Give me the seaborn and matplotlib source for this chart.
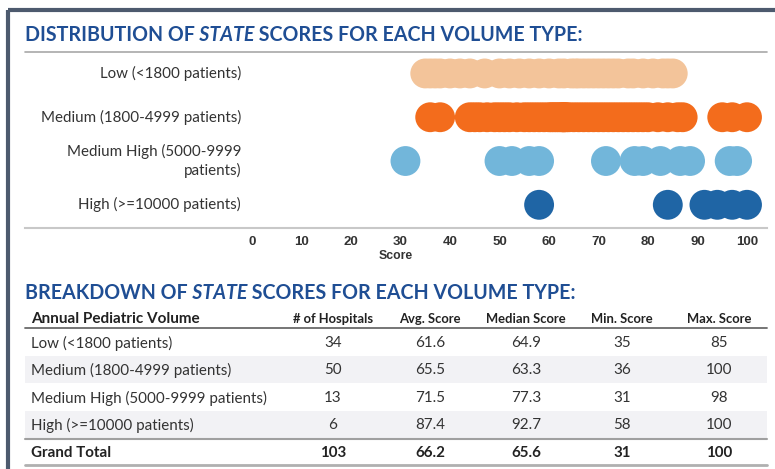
"""
Strip plot of state scores by pediatric volume type, with a summary table below.
"""

import numpy as np
import pandas as pd
import matplotlib
matplotlib.use("Agg")
import matplotlib.pyplot as plt
import seaborn as sns

# Scores per hospital
low_scores = [35, 36, 37, 38, 40, 42, 44, 47, 50, 52, 54, 56, 58, 60, 62, 63, 64.5,
              65.3, 66, 67, 68, 69, 70, 71, 72, 73, 74, 76, 77, 79, 81, 83, 84, 85]
medium_scores = [36, 38, 44, 45, 46, 47.5, 49, 50, 51, 52, 53.5, 55, 56, 57, 58, 59,
                 60, 60.5, 61, 61.5, 62, 62.5, 62.8, 63, 63.1, 63.5, 64, 65, 66, 67,
                 68, 69, 70, 71, 72, 73, 74, 75, 76, 77, 78, 79, 80, 82, 84, 86, 87,
                 95, 97, 100]
medium_high_scores = [31, 50, 52.5, 56, 58, 71.5, 77.3, 79, 82.5, 86.5, 88.5, 96.5, 98]
high_scores = [58, 84, 91.4, 94, 97, 100]

volume_types = ["Low", "Medium", "Medium High", "High"]
chart_labels = ["Low (<1800 patients)", "Medium (1800-4999 patients)",
                "Medium High (5000-9999\npatients)", "High (>=10000 patients)"]
colors = ["#F3C49A", "#F36C1C", "#72B6DA", "#1F65A5"]
score_ticks = [0, 10, 20, 30, 40, 50, 60, 70, 80, 90, 100]

# Summary table
table_header = ["Annual Pediatric Volume", "# of Hospitals", "Avg. Score",
                "Median Score", "Min. Score", "Max. Score"]
table_labels = ["Low (<1800 patients)", "Medium (1800-4999 patients)",
                "Medium High (5000-9999 patients)", "High (>=10000 patients)"]
n_hospitals = [34, 50, 13, 6]
avg_score = [61.6, 65.5, 71.5, 87.4]
median_score = [64.9, 63.3, 77.3, 92.7]
min_score = [35, 36, 31, 58]
max_score = [85, 100, 98, 100]
grand_total = ["Grand Total", 103, 66.2, 65.6, 31, 100]

df = pd.DataFrame({
    "Score": low_scores + medium_scores + medium_high_scores + high_scores,
    "Volume": (["Low"] * len(low_scores) + ["Medium"] * len(medium_scores)
               + ["Medium High"] * len(medium_high_scores) + ["High"] * len(high_scores)),
})

sns.set_style("white")
plt.rcParams["font.family"] = ["Lato", "DejaVu Sans"]

W, H = 775, 469
fig = plt.figure(figsize=(W / 100, H / 100), dpi=100)

# overlay axes in pixel coordinates for frame, titles and table
ax0 = fig.add_axes([0, 0, 1, 1])
ax0.set_xlim(0, W)
ax0.set_ylim(H, 0)
ax0.axis("off")

title_color = "#1F4E94"
frame_color = "#4D5A6E"
text_color = "#333333"

# frame
ax0.plot([7.5, W], [10, 10], color=frame_color, lw=3, solid_capstyle="butt")
ax0.plot([7.5, 7.5], [10, H], color=frame_color, lw=3, solid_capstyle="butt")


def styled_title(x, y, parts, size=14.1):
    prev = None
    for txt, style in parts:
        kw = dict(fontsize=size, fontweight="bold", fontstyle=style, color=title_color)
        if prev is None:
            prev = ax0.text(x, y, txt, ha="left", va="center", **kw)
        else:
            prev = ax0.annotate(txt, xy=(1, 0), xycoords=prev, ha="left", va="bottom", **kw)


styled_title(25, 35, [("DISTRIBUTION OF", "normal"), (" STATE", "italic"),
                      (" SCORES FOR EACH VOLUME TYPE:", "normal")])
ax0.plot([25, 767], [52, 52], color="#A8A8A8", lw=1.2)

# strip plot axes, pixel box x 25..767, y 52..228
ax = fig.add_axes([25 / W, 1 - 228 / H, (767 - 25) / W, (228 - 52) / H])
sns.stripplot(data=df, x="Score", y="Volume", hue="Volume", order=volume_types,
              hue_order=volume_types, palette=colors, jitter=False, size=21.5,
              linewidth=0, alpha=1, legend=False, ax=ax, zorder=3)
ax.set_xlim(-45.86, 104.04)
ax.set_ylim(3.53, -0.49)
ax.set_yticks([])
ax.set_ylabel("")
ax.set_xticks(score_ticks)
ax.set_xticklabels([str(t) for t in score_ticks], fontsize=9.5, fontweight="bold",
                   color=text_color, family=["Liberation Sans", "DejaVu Sans"])
ax.tick_params(axis="x", length=0, pad=6)
ax.set_xlabel("Score", fontsize=8.8, fontweight="bold", color=text_color,
              family=["Liberation Sans", "DejaVu Sans"], labelpad=1)
for s in ["top", "left", "right"]:
    ax.spines[s].set_visible(False)
ax.spines["bottom"].set_color("#C8C8C8")
ax.spines["bottom"].set_linewidth(1.5)
ax.patch.set_alpha(0)

for i, lab in enumerate(chart_labels):
    ax.text(-2.2, i, lab, ha="right", va="center", fontsize=10.9, color=text_color,
            linespacing=1.4)

# table
styled_title(25, 293, [("BREAKDOWN OF", "normal"), (" STATE", "italic"),
                       (" SCORES FOR EACH VOLUME TYPE:", "normal")])

col_x = [31, 333, 430, 526, 622, 719]
header_y = 319
row_y = [343, 370, 398, 425]
total_y = 453

for j, h in enumerate(table_header):
    ax0.text(col_x[j], header_y, h, ha="left" if j == 0 else "center", va="center",
             fontsize=11 if j == 0 else 9.4, fontweight="bold", color="#222222")
ax0.plot([25, 767], [328, 328], color="#6A6A6A", lw=1.3)

for i in range(len(table_labels)):
    if i % 2 == 1:
        ax0.fill_between([25, 767], row_y[i] - 13.5, row_y[i] + 13.5,
                         color="#F2F2F5", lw=0, zorder=0)
    vals = [n_hospitals[i], avg_score[i], median_score[i], min_score[i], max_score[i]]
    ax0.text(col_x[0], row_y[i], table_labels[i], ha="left", va="center",
             fontsize=10.9, color=text_color)
    for j, v in enumerate(vals):
        ax0.text(col_x[j + 1], row_y[i], str(v), ha="center", va="center",
                 fontsize=10.9, color=text_color)

ax0.plot([25, 767], [439, 439], color="#A0A0A0", lw=1.5)
for j, v in enumerate(grand_total):
    ax0.text(col_x[j], total_y, str(v), ha="left" if j == 0 else "center", va="center",
             fontsize=10.9, fontweight="bold", color="#222222")
ax0.plot([25, 767], [465, 465], color="#B0B0B0", lw=2)

fig.savefig("out.png", dpi=100)
